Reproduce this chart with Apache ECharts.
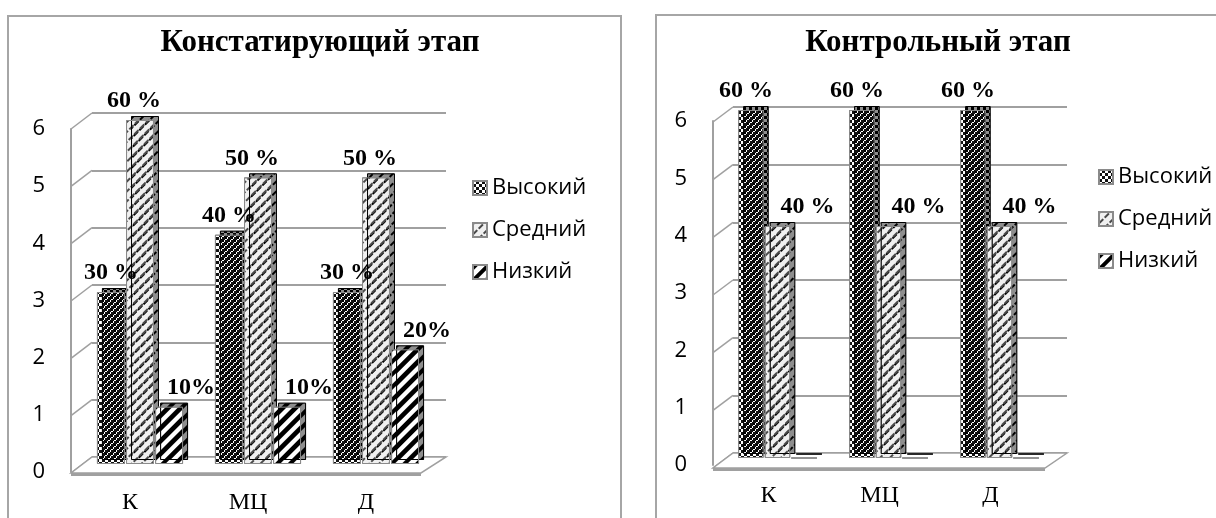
<!DOCTYPE html>
<html><head><meta charset="utf-8">
<script src="https://cdn.jsdelivr.net/npm/echarts@6/dist/echarts.min.js"></script>
<style>html,body{margin:0;padding:0;background:#fff;overflow:hidden}#c{width:1216px;height:518px}</style>
</head><body><div id="c"></div>
<script>
// ---- data ----
const categories = ['К', 'МЦ', 'Д'];
const yTicks = [0, 1, 2, 3, 4, 5, 6];
const seriesNames = ['Высокий', 'Средний', 'Низкий'];

const stage1Title = 'Констатирующий этап';
const stage1High = [3, 4, 3];
const stage1Mid = [6, 5, 5];
const stage1Low = [1, 1, 2];
const stage1HighLabels = ['30 %', '40 %', '30 %'];
const stage1MidLabels = ['60 %', '50 %', '50 %'];
const stage1LowLabels = ['10%', '10%', '20%'];

const stage2Title = 'Контрольный этап';
const stage2High = [6, 6, 6];
const stage2Mid = [4, 4, 4];
const stage2Low = [0, 0, 0];
const stage2HighLabels = ['60 %', '60 %', '60 %'];
const stage2MidLabels = ['40 %', '40 %', '40 %'];
const stage2LowLabels = ['', '', ''];

// ---- styles ----
const GRID_GREY = '#a0a0a0';
const SERIF = '"Liberation Serif", "Times New Roman", serif';
const SANS = '"Open Sans", "Noto Sans", sans-serif';

const decals = {
  high: { symbol: 'rect', symbolSize: 1, dashArrayX: [[3, 3], [0, 3, 3, 0]], dashArrayY: [3, 0], color: '#111', rotation: 0 },
  mid: { symbol: 'rect', symbolSize: 1, dashArrayX: [[6, 2]], dashArrayY: [2, 5], color: '#4a4a4a', rotation: -Math.PI / 4 },
  low: { symbol: 'rect', symbolSize: 1, dashArrayX: [[1, 0]], dashArrayY: [4, 5], color: '#000', rotation: -Math.PI / 4 }
};
const baseColors = { high: '#ffffff', mid: '#f0f0f0', low: '#ffffff' };

// panel layouts: front (axis), mid (bars), back (wall)
const panels = [
  { front: { left: 71, top: 129, width: 354, height: 343 },
    mid:   { left: 81, top: 120, width: 354, height: 344 },
    back:  { left: 92, top: 113, width: 354, height: 344 },
    wallDx: 21, wallDy: 16, floorDxR: 25,
    labelOffsets: [0, -6, 22] },
  { front: { left: 713, top: 121, width: 333, height: 344 },
    mid:   { left: 722, top: 110, width: 333, height: 348 },
    back:  { left: 733, top: 107, width: 334, height: 346 },
    wallDx: 20, wallDy: 15, floorDxR: 22,
    labelOffsets: [-5, 30, 0] }
];

const grids = [], xAxes = [], yAxes = [], series = [];

function addPanel(p, pi, values, labels) {
  const base = pi * 3;
  ['front', 'mid', 'back'].forEach(k => grids.push(Object.assign({ containLabel: false }, p[k])));
  // x axes
  xAxes.push({ gridIndex: base, type: 'category', data: categories,
    axisLine: { show: false }, axisTick: { show: false },
    axisLabel: { fontFamily: SERIF, fontSize: 24, color: '#000', margin: 19 } });
  xAxes.push({ gridIndex: base + 1, type: 'category', data: categories, show: false });
  xAxes.push({ gridIndex: base + 2, type: 'category', data: categories, show: false });
  // y axes
  yAxes.push({ gridIndex: base, type: 'value', min: 0, max: 6, interval: 1,
    axisLine: { show: true, lineStyle: { color: GRID_GREY, width: 2 } },
    axisTick: { show: false }, splitLine: { show: false },
    axisLabel: { fontFamily: SANS, fontSize: 22, color: '#000', margin: 26 } });
  yAxes.push({ gridIndex: base + 1, type: 'value', min: 0, max: 6, interval: 1, show: false, splitLine: { show: false } });
  yAxes.push({ gridIndex: base + 2, type: 'value', min: 0, max: 6, interval: 1,
    axisLine: { show: false }, axisTick: { show: false }, axisLabel: { show: false },
    splitLine: { show: true, lineStyle: { color: GRID_GREY, width: 2 } } });

  // side wall connectors
  series.push({ type: 'custom', xAxisIndex: base + 2, yAxisIndex: base + 2, silent: true, z: 1,
    data: yTicks.map(v => [0, v]),
    renderItem: (params, api) => {
      const cs = params.coordSys;
      const y = api.coord([0, api.value(1)])[1];
      return { type: 'line', shape: { x1: cs.x - p.wallDx, y1: y + p.wallDy, x2: cs.x, y2: y },
        style: { stroke: GRID_GREY, lineWidth: 1.5 } };
    } });
  // floor
  series.push({ type: 'custom', xAxisIndex: base + 2, yAxisIndex: base + 2, silent: true, z: 1,
    data: [[0, 0]],
    renderItem: (params, api) => {
      const cs = params.coordSys;
      const y = api.coord([0, 0])[1];
      const pts = [[cs.x, y], [cs.x + cs.width, y], [cs.x + cs.width - p.floorDxR, y + p.wallDy],
                   [cs.x - p.wallDx, y + p.wallDy]];
      return { type: 'group', children: [
        { type: 'polygon', shape: { points: pts }, style: { fill: '#fff', stroke: GRID_GREY, lineWidth: 1.5 } },
        { type: 'line', shape: { x1: cs.x - p.wallDx, y1: y + p.wallDy + 1.5, x2: cs.x + cs.width - p.floorDxR, y2: y + p.wallDy + 1.5 },
          style: { stroke: GRID_GREY, lineWidth: 3 } }
      ] };
    } });

  const keys = ['high', 'mid', 'low'];
  keys.forEach((k, i) => {
    const lbl = labels[i];
    series.push({
      type: 'bar', name: seriesNames[i], xAxisIndex: base + 1, yAxisIndex: base + 1, z: 3,
      data: values[i], barCategoryGap: pi === 0 ? '27%' : '29%', barGap: '4%',
      itemStyle: { color: baseColors[k], borderColor: '#8a8a8a', borderWidth: 1,
        shadowColor: '#8e8e8e', shadowOffsetX: 5, shadowOffsetY: -4, shadowBlur: 0,
        decal: decals[k] },
      label: { show: true, position: 'top', distance: 7, offset: [p.labelOffsets[i], 0],
        fontFamily: SERIF, fontWeight: 'bold', fontSize: 24, color: '#000',
        formatter: prm => lbl[prm.dataIndex] },
      emphasis: { disabled: true }
    });
  });
}

addPanel(panels[0], 0, [stage1High, stage1Mid, stage1Low], [stage1HighLabels, stage1MidLabels, stage1LowLabels]);
addPanel(panels[1], 1, [stage2High, stage2Mid, stage2Low], [stage2HighLabels, stage2MidLabels, stage2LowLabels]);

const legendCommon = { orient: 'vertical', data: seriesNames, icon: 'rect', itemWidth: 14, itemHeight: 14,
  itemGap: 18, selectedMode: false,
  textStyle: { fontFamily: SANS, fontSize: 22, color: '#000', lineHeight: 24 } };

const option = {
  animation: false,
  backgroundColor: '#fff',
  grid: grids, xAxis: xAxes, yAxis: yAxes, series: series,
  legend: [Object.assign({ left: 467, top: 171 }, legendCommon),
           Object.assign({ left: 1093, top: 160 }, legendCommon)],
  graphic: [
    { type: 'rect', shape: { x: 8, y: 16, width: 613, height: 520 }, style: { fill: 'none', stroke: '#a6a6a6', lineWidth: 2 }, z: 0 },
    { type: 'rect', shape: { x: 656, y: 15, width: 600, height: 520 }, style: { fill: 'none', stroke: '#a6a6a6', lineWidth: 2 }, z: 0 },
    { type: 'text', x: 320, y: 43, style: { text: stage1Title, font: 'bold 31px ' + SERIF, fill: '#000', textAlign: 'center', textVerticalAlign: 'middle', align: 'center', verticalAlign: 'middle' } },
    { type: 'text', x: 938, y: 43, style: { text: stage2Title, font: 'bold 31px ' + SERIF, fill: '#000', textAlign: 'center', textVerticalAlign: 'middle', align: 'center', verticalAlign: 'middle' } }
  ]
};

const chart = echarts.init(document.getElementById('c'), null, { renderer: 'canvas' });
chart.setOption(option);
</script>
</body></html>
